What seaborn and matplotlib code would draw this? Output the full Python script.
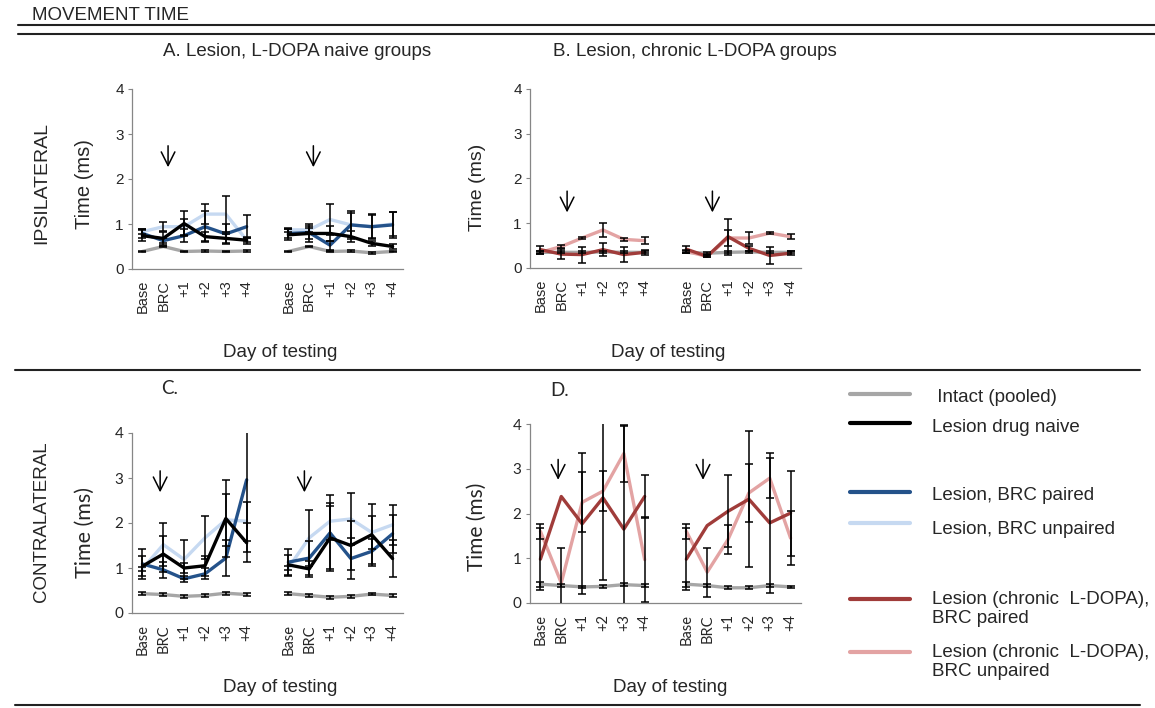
# %%
import numpy as np
import pandas as pd
import seaborn as sns
import matplotlib.pyplot as plt
from matplotlib.lines import Line2D

sns.set_style("white")
plt.rcParams["font.family"] = ["Liberation Sans", "DejaVu Sans"]

W, H = 1155, 708

# %% data
days = ["Base", "BRC", "+1", "+2", "+3", "+4"]
x_pos = [0, 1, 2, 3, 4, 5, 7, 8, 9, 10, 11, 12]
block = [1] * 6 + [2] * 6

groups = ["Intact (pooled)", "Lesion drug naive", "Lesion, BRC paired", "Lesion, BRC unpaired",
          "Lesion (chronic  L-DOPA),\nBRC paired", "Lesion (chronic  L-DOPA),\nBRC unpaired"]
colors = ["#a6a6a6", "#000000", "#24528a", "#c6d9f1", "#a03c3a", "#e3a3a3"]

# A. ipsilateral, L-DOPA naive groups
a_intact = [0.39, 0.50, 0.39, 0.40, 0.39, 0.40, 0.39, 0.50, 0.39, 0.40, 0.36, 0.39]
a_naive = [0.74, 0.68, 1.01, 0.72, 0.68, 0.64, 0.76, 0.79, 0.79, 0.72, 0.57, 0.50]
a_paired = [0.79, 0.63, 0.74, 0.94, 0.78, 0.94, 0.79, 0.81, 0.53, 0.98, 0.94, 0.98]
a_unpaired = [0.83, 0.94, 0.94, 1.22, 1.22, 0.64, 0.87, 0.87, 1.10, 0.98, 0.94, 1.00]
a_intact_sem = [0.02] * 12
a_naive_sem = [0.12, 0.15, 0.27, 0.10, 0.10, 0.08, 0.12, 0.20, 0.16, 0.12, 0.05, 0.05]
a_paired_sem = [0.10, 0.05, 0.14, 0.35, 0.22, 0.26, 0.10, 0.15, 0.10, 0.32, 0.28, 0.28]
a_unpaired_sem = [0.05, 0.10, 0.18, 0.23, 0.40, 0.05, 0.05, 0.05, 0.35, 0.27, 0.26, 0.27]

# B. ipsilateral, chronic L-DOPA groups
b_intact = [0.35, 0.35, 0.35, 0.36, 0.35, 0.35, 0.35, 0.33, 0.35, 0.36, 0.35, 0.35]
b_paired = [0.41, 0.31, 0.30, 0.41, 0.30, 0.35, 0.42, 0.26, 0.70, 0.44, 0.28, 0.33]
b_unpaired = [0.35, 0.48, 0.67, 0.85, 0.64, 0.61, 0.37, 0.26, 0.67, 0.67, 0.78, 0.70]
b_intact_sem = [0.02] * 12
b_paired_sem = [0.09, 0.11, 0.18, 0.15, 0.17, 0.05, 0.08, 0.02, 0.40, 0.05, 0.18, 0.05]
b_unpaired_sem = [0.03, 0.03, 0.02, 0.15, 0.03, 0.08, 0.03, 0.02, 0.17, 0.13, 0.03, 0.06]

# C. contralateral, L-DOPA naive groups
c_intact = [0.43, 0.41, 0.37, 0.39, 0.44, 0.41, 0.43, 0.39, 0.35, 0.37, 0.42, 0.39]
c_naive = [1.04, 1.31, 1.00, 1.05, 2.10, 1.56, 1.07, 0.98, 1.67, 1.50, 1.74, 1.21]
c_paired = [1.09, 0.96, 0.76, 0.87, 1.22, 2.96, 1.13, 1.22, 1.78, 1.21, 1.37, 1.76]
c_unpaired = [0.98, 1.52, 1.19, 1.67, 2.07, 2.04, 1.00, 1.67, 2.04, 2.09, 1.79, 1.96]
c_intact_sem = [0.03] * 12
c_naive_sem = [0.22, 0.40, 0.12, 0.22, 0.85, 0.43, 0.22, 0.18, 0.70, 0.55, 0.69, 0.41]
c_paired_sem = [0.33, 0.18, 0.06, 0.12, 0.40, 1.60, 0.30, 0.38, 0.84, 0.45, 0.27, 0.42]
c_unpaired_sem = [0.05, 0.48, 0.43, 0.48, 0.58, 0.43, 0.05, 0.63, 0.41, 0.57, 0.36, 0.44]

# D. contralateral, chronic L-DOPA groups
d_intact = [0.42, 0.39, 0.36, 0.37, 0.41, 0.39, 0.42, 0.39, 0.34, 0.34, 0.39, 0.36]
d_paired = [0.98, 2.38, 1.77, 2.35, 1.65, 2.38, 0.98, 1.73, 2.05, 2.32, 1.79, 2.01]
d_unpaired = [1.60, 0.45, 2.25, 2.50, 3.34, 0.97, 1.60, 0.69, 1.42, 2.46, 2.79, 1.45]
d_intact_sem = [0.06, 0.03, 0.03, 0.03, 0.03, 0.03, 0.06, 0.03, 0.03, 0.03, 0.03, 0.03]
d_paired_sem = [0.70, 0.0, 1.58, 1.83, 2.30, 0.48, 0.70, 0.0, 0.80, 1.52, 1.57, 0.95]
d_unpaired_sem = [0.17, 0.77, 0.67, 0.45, 0.64, 0.95, 0.17, 0.55, 0.33, 0.64, 0.45, 0.60]

panels = {
    "A": [(0, a_intact, a_intact_sem), (3, a_unpaired, a_unpaired_sem),
          (2, a_paired, a_paired_sem), (1, a_naive, a_naive_sem)],
    "B": [(0, b_intact, b_intact_sem), (5, b_unpaired, b_unpaired_sem),
          (4, b_paired, b_paired_sem)],
    "C": [(0, c_intact, c_intact_sem), (3, c_unpaired, c_unpaired_sem),
          (2, c_paired, c_paired_sem), (1, c_naive, c_naive_sem)],
    "D": [(0, d_intact, d_intact_sem), (5, d_unpaired, d_unpaired_sem),
          (4, d_paired, d_paired_sem)],
}

# BRC arrows (x, tail y, head y)
arrows = {
    "A": [(1.23, 2.8, 2.2), (8.2, 2.8, 2.2)],
    "B": [(1.28, 1.78, 1.18), (8.25, 1.78, 1.18)],
    "C": [(0.85, 3.22, 2.62), (7.77, 3.22, 2.62)],
    "D": [(0.85, 3.27, 2.69), (7.8, 3.27, 2.69)],
}

# axes boxes in pixels: left, top, right, bottom
boxes = {"A": (132, 89, 403, 269), "B": (530, 89, 801, 268),
         "C": (132, 433, 403, 613), "D": (530, 424, 801, 603)}


def fx(x):
    return x / W


def fy(y):
    return 1 - y / H


fig = plt.figure(figsize=(W / 100, H / 100), dpi=100)

for key, series in panels.items():
    l, t, r, b = boxes[key]
    ax = fig.add_axes([fx(l), fy(b), (r - l) / W, (b - t) / H])
    rows = []
    for gi, vals, sem in series:
        for xi, bl, v, s in zip(x_pos, block, vals, sem):
            rows.append([groups[gi], bl, xi, v, s])
    df = pd.DataFrame(rows, columns=["group", "block", "x", "time", "err"])
    order = [groups[gi] for gi, _, _ in series]
    pal = {groups[gi]: colors[gi] for gi, _, _ in series}
    sns.lineplot(data=df, x="x", y="time", hue="group", hue_order=order, units="block",
                 estimator=None, palette=pal, linewidth=2.4, legend=False, sort=False, ax=ax)
    for gi, vals, sem in series:
        d = df[(df["group"] == groups[gi]) & (df["err"] > 0)]
        ax.errorbar(d["x"], d["time"], yerr=d["err"], fmt="none", ecolor="black", elinewidth=1.1,
                    capsize=3, capthick=1.1, zorder=3)
    for xa, y0, y1 in arrows[key]:
        ax.annotate("", xy=(xa, y1), xytext=(xa, y0),
                    arrowprops=dict(arrowstyle="->,head_length=0.7,head_width=0.35",
                                    color="black", lw=1.1, mutation_scale=14))

    ax.set_xlim(-0.5, 12.5)
    ax.set_ylim(0, 4)
    ax.set_yticks(range(5))
    ax.set_xticks(x_pos)
    tick_font = ["Liberation Sans"] if key in "AB" else ["Lato", "DejaVu Sans"]
    ax.set_xticklabels(days * 2, rotation=90, va="top", family=tick_font, fontsize=10.5)
    ax.set_yticklabels([str(v) for v in range(5)], family=tick_font, fontsize=11)
    ax.tick_params(axis="x", length=0, pad=8)
    ax.tick_params(axis="y", length=3, width=0.8, color="#868686", pad=3, left=True)
    ax.set_xlabel("")
    ax.set_ylabel("")
    for s in ["top", "right"]:
        ax.spines[s].set_visible(False)
    for s in ["left", "bottom"]:
        ax.spines[s].set_color("#868686")
        ax.spines[s].set_linewidth(0.9)
    ax.set_facecolor("none")

# %% texts
big = 13.5
fig.text(fx(32), fy(15), "MOVEMENT TIME", fontsize=big, va="center", ha="left")
fig.text(fx(297), fy(52), "A. Lesion, L-DOPA naive groups", fontsize=big, va="center", ha="center")
fig.text(fx(553), fy(52), "B. Lesion, chronic L-DOPA groups", fontsize=big, va="center", ha="left")
fig.text(fx(170), fy(389), "C.", fontsize=big, va="center", ha="center", family=["Lato", "DejaVu Sans"])
fig.text(fx(560), fy(390), "D.", fontsize=big, va="center", ha="center", family=["Lato", "DejaVu Sans"])
fig.text(fx(42), fy(183), "IPSILATERAL", fontsize=14, rotation=90, va="center", ha="center")
fig.text(fx(42), fy(522), "CONTRALATERAL", fontsize=big, rotation=90, va="center", ha="center")
for xl, yl, fam, fs in [(85, 184, "Liberation Sans", 14.5), (477, 187, "Liberation Sans", 14),
                        (85, 532, "Lato", 15.5), (477, 527, "Lato", 15)]:
    fig.text(fx(xl), fy(yl), "Time (ms)", fontsize=fs, rotation=90, va="center", ha="center",
             family=[fam, "DejaVu Sans"])
for xl, yl in [(280, 353), (668, 353), (280, 688), (670, 688)]:
    fig.text(fx(xl), fy(yl), "Day of testing", fontsize=big, va="center", ha="center")

# rules
for y, x0, x1 in [(25, 18, 1155), (34, 18, 1155), (370, 15, 1140), (705, 15, 1140)]:
    fig.add_artist(Line2D([fx(x0), fx(x1)], [fy(y), fy(y)], color="#222222", lw=1.5))

# legend
legend_rows = [(0, 394, 397), (1, 423, 427), (2, 492, 496), (3, 523, 530), (4, 599, 591), (5, 652, 644)]
for gi, yl, yt in legend_rows:
    fig.add_artist(Line2D([fx(850), fx(910)], [fy(yl), fy(yl)], color=colors[gi], lw=3))
    label = (" " if gi == 0 else "") + groups[gi]
    if "\n" in label:
        fig.text(fx(932), fy(yt), label, fontsize=big, va="top", ha="left", linespacing=1.15)
    else:
        fig.text(fx(932), fy(yt), label, fontsize=big, va="center", ha="left")

fig.savefig("out.png", dpi=100)
